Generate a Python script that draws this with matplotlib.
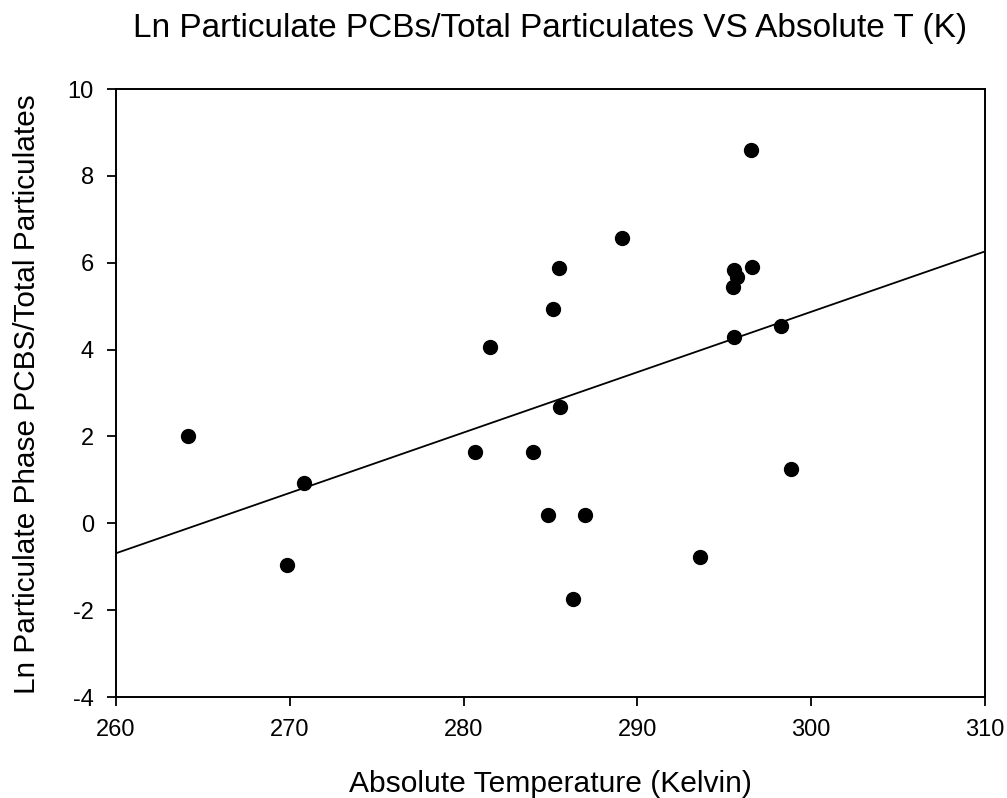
import matplotlib
matplotlib.use("Agg")
import matplotlib.pyplot as plt

plt.rcParams['font.family'] = ['Liberation Sans', 'DejaVu Sans']
plt.rcParams['axes.unicode_minus'] = False

temp_k = [264.17, 270.83, 269.85, 281.54, 280.65, 284.01, 284.86, 296.52, 289.10,
          285.50, 285.17, 295.57, 295.73, 295.48, 296.58, 298.29, 295.57, 285.56,
          298.86, 286.96, 293.60, 286.29]
ln_ratio = [2.00, 0.93, -0.97, 4.05, 1.64, 1.64, 0.18, 8.59, 6.58,
            5.88, 4.94, 5.84, 5.68, 5.43, 5.91, 4.55, 4.29, 2.68,
            1.25, 0.20, -0.77, -1.74]
fit_x = [260, 310]
fit_y = [-0.69, 6.26]
x_ticks = [260, 270, 280, 290, 300, 310]
y_ticks = [-4, -2, 0, 2, 4, 6, 8, 10]

W, H = 1007, 798
fig = plt.figure(figsize=(W/100, H/100), dpi=100)
ax = fig.add_axes([116/W, 1-697/H, (985-116)/W, (697-89)/H])

ax.plot(fit_x, fit_y, color='black', linewidth=1.3)
ax.plot(temp_k, ln_ratio, 'o', color='black', markersize=10, linestyle='none')

ax.set_xlim(260, 310)
ax.set_ylim(-4, 10)
ax.set_xticks(x_ticks)
ax.set_yticks(y_ticks)
ax.tick_params(direction='out', length=6.5, width=1.3, labelsize=17, pad=9.5)
for s in ax.spines.values():
    s.set_linewidth(1.4)
ax.tick_params(top=False, right=False)

fig.text(550/W, 1-792/H, 'Absolute Temperature (Kelvin)',
         ha='center', va='baseline', fontsize=21.6)
fig.text(35/W, 1-394/H, 'Ln Particulate Phase PCBS/Total Particulates',
         ha='center', va='baseline', rotation=90, rotation_mode='anchor', fontsize=21.4)
fig.text(550/W, 1-37/H, 'Ln Particulate PCBs/Total Particulates VS Absolute T (K)',
         ha='center', va='baseline', fontsize=24)

fig.savefig('out.png', dpi=100)
